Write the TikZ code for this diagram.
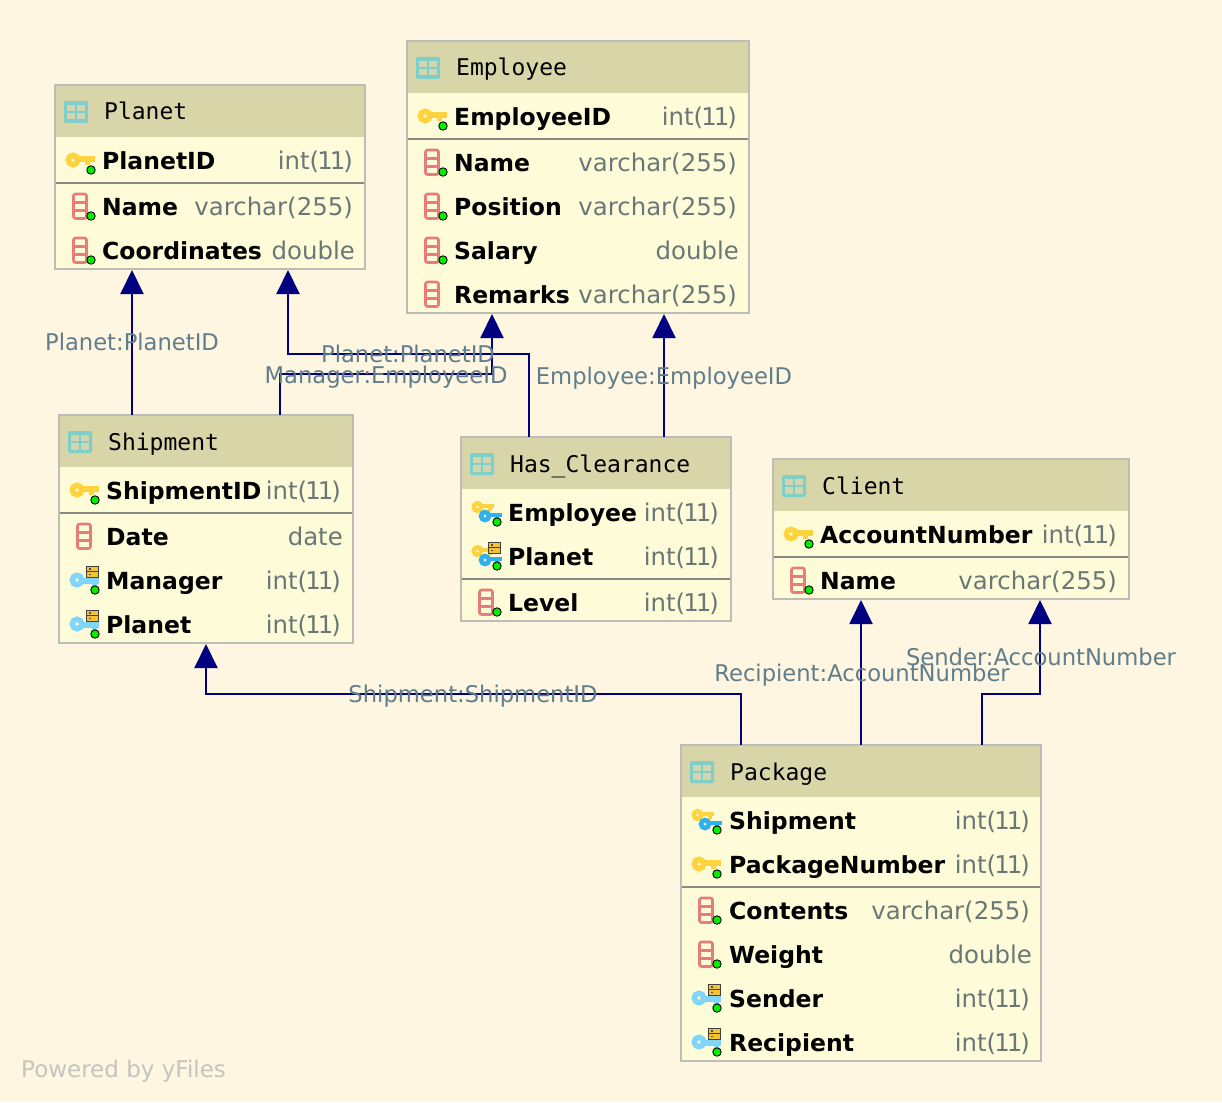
\documentclass[tikz,border=0pt]{standalone}
\usepackage{fontspec}
\setmainfont{DejaVu Sans}
\newfontfamily\monofam{DejaVu Sans Mono}
\newfontfamily\namefam{DejaVu Sans Bold}
\newfontfamily\labelfam[FakeStretch=0.985]{DejaVu Sans}
\usetikzlibrary{arrows.meta}
\definecolor{bgc}{HTML}{FEF6E0}
\definecolor{headc}{HTML}{D8D5A9}
\definecolor{rowc}{HTML}{FEFCD8}
\definecolor{borderc}{HTML}{BDBDB8}
\definecolor{sepc}{HTML}{8A8A85}
\definecolor{linkc}{HTML}{000080}
\definecolor{labelc}{HTML}{607D8B}
\definecolor{typec}{HTML}{6A7777}
\definecolor{markc}{HTML}{C4C4BE}
\definecolor{tealc}{HTML}{80CEC8}
\definecolor{cellc}{HTML}{D3D5B0}
\definecolor{colc}{HTML}{E77C7C}
\definecolor{goldc}{HTML}{FFD33D}
\definecolor{lblue}{HTML}{81D4FA}
\definecolor{dblue}{HTML}{2FB0F0}
\definecolor{dotc}{HTML}{00F000}
\definecolor{folderc}{HTML}{F4C430}
\newcommand{\inttype}{int(\kern-2pt 1\kern-3pt 1\kern-2pt)}
\tikzset{
  x=1pt,y=-1pt,
  tablebox/.style={draw=borderc,line width=2pt,fill=rowc,anchor=north west,inner sep=0pt,outer sep=0pt},
  headbox/.style={fill=headc,anchor=north west,inner sep=0pt,outer sep=0pt},
  title/.style={anchor=base west,inner sep=0pt,font=\monofam\fontsize{23}{23}\selectfont},
  fieldname/.style={anchor=base west,inner sep=0pt,font=\namefam\fontsize{23.5}{24}\selectfont},
  fieldtype/.style={anchor=base east,inner sep=0pt,text=typec,font=\fontsize{24.4}{24}\selectfont},
  edgelabel/.style={anchor=base,inner sep=0pt,text=labelc,font=\labelfam\fontsize{23}{23}\selectfont},
  link/.style={draw=linkc,line width=2pt},
  fk/.style={link,-{Triangle[length=24pt,width=23pt]}},
  pics/gicondot/.style={code={\fill[dotc,draw=black,line width=.9pt] (36,9) circle (4.2);}},
  pics/tableicon/.style={code={
    \fill[tealc,rounded corners=2pt] (0,-11) rectangle (24,11);
    \fill[cellc] (3,-7) rectangle (11,-1); \fill[cellc] (13,-7) rectangle (21,-1);
    \fill[cellc] (3,1) rectangle (11,7.5); \fill[cellc] (13,1) rectangle (21,7.5);}},
  pics/colicon/.style={code={
    \draw[colc,line width=2.6pt,rounded corners=2pt] (18.5,-13) rectangle (31.5,11.5);
    \draw[colc,line width=2.2pt] (18.5,-4.5) -- (31.5,-4.5) (18.5,3.5) -- (31.5,3.5);}},
  pics/pkicon/.style={code={
    \draw[goldc,line width=5.5pt] (18,-1) circle (4.7);
    \draw[goldc,line width=5.5pt] (24,-2) -- (40,-2);
    \fill[goldc] (30,-2) rectangle (35,4);}},
  pics/fkkey/.style={code={
    \draw[lblue,line width=5.5pt] (18,-1) circle (4.7);
    \draw[lblue,line width=5.5pt] (24,0) -- (40,0);
    \fill[lblue] (33,0) rectangle (38,5);}},
  pics/foldericon/.style={code={
    \fill[folderc,draw=black!75,line width=.9pt] (0,0) rectangle (12,5.8);
    \fill[folderc,draw=black!75,line width=.9pt] (0,5.8) rectangle (12,11.6);
    \fill[black!70] (2,1.8) rectangle (4,3.6); \fill[black!70] (2,7.6) rectangle (4,9.4);}},
  pics/duoicon/.style={code={
    \draw[goldc,line width=4.4pt] (16.5,-6) circle (3.8);
    \draw[goldc,line width=4.4pt] (21,-7) -- (33,-7);
    \fill[goldc] (27,-7) rectangle (31,-2);
    \draw[dblue,line width=4.6pt] (24,3) circle (4);
    \draw[dblue,line width=4.6pt] (29,2) -- (41,2);
    \fill[dblue] (34,2) rectangle (38,6);}},
}
% #1 name, #2 title, #3 left, #4 top, #5 right, #6 bottom, #7 separator y
\newcommand{\dbtable}[7]{%
  \node[tablebox,minimum width=#5-#3,minimum height=#6-#4] (#1) at (#3,#4) {};
  \node[headbox,minimum width=#5-#3-2,minimum height=51] (#1head) at (#3+1,#4+1) {};
  \draw[sepc,line width=2pt] (#3+1,#7) -- (#5-1,#7);
  \pic at (#3+9,#4+27) {tableicon};
  \node[title] (#1title) at (#3+49,#4+35) {#2};
  \draw[borderc,line width=2pt] (#3,#4) rectangle (#5,#6);
}
% #1 node name, #2 table left, #3 right edge for type, #4 row y, #5 field, #6 type
\newcommand{\fieldrow}[6]{%
  \node[fieldname] (#1n) at (#2+47,#4+8.5) {#5};
  \node[fieldtype] (#1t) at (#3,#4+8.5) {#6};
}
\begin{document}
\begin{tikzpicture}
\useasboundingbox (0,0) rectangle (1222,1102);
\fill[bgc] (0,0) rectangle (1222,1102);

% ---------- Planet
\dbtable{planet}{Planet}{55}{85}{365}{269}{183}
\fieldrow{pa}{55}{353}{161}{PlanetID}{\inttype}
\fieldrow{pb}{55}{353}{207}{Name}{varchar(255)}
\fieldrow{pc}{55}{355}{251}{Coordinates}{double}
\pic at (55,161) {pkicon}; \pic at (55,161) {gicondot};
\pic at (55,207) {colicon}; \pic at (55,207) {gicondot};
\pic at (55,251) {colicon}; \pic at (55,251) {gicondot};

% ---------- Employee
\dbtable{employee}{Employee}{407}{41}{749}{313}{139}
\fieldrow{ea}{407}{737}{117}{EmployeeID}{\inttype}
\fieldrow{eb}{407}{737}{163}{Name}{varchar(255)}
\fieldrow{ec}{407}{737}{207}{Position}{varchar(255)}
\fieldrow{ed}{407}{739}{251}{Salary}{double}
\fieldrow{ee}{407}{737}{295}{Remarks}{varchar(255)}
\pic at (407,117) {pkicon}; \pic at (407,117) {gicondot};
\pic at (407,163) {colicon}; \pic at (407,163) {gicondot};
\pic at (407,207) {colicon}; \pic at (407,207) {gicondot};
\pic at (407,251) {colicon}; \pic at (407,251) {gicondot};
\pic at (407,295) {colicon};

% ---------- Shipment
\dbtable{shipment}{Shipment}{59}{415}{353}{643}{513}
\fieldrow{sa}{59}{341}{491}{ShipmentID}{\inttype}
\fieldrow{sb}{59}{343}{537}{Date}{date}
\fieldrow{sc}{59}{341}{581}{Manager}{\inttype}
\fieldrow{sd}{59}{341}{625}{Planet}{\inttype}
\pic at (59,491) {pkicon}; \pic at (59,491) {gicondot};
\pic at (59,537) {colicon};
\pic at (59,581) {fkkey}; \pic at (86.5,566) {foldericon}; \pic at (59,581) {gicondot};
\pic at (59,625) {fkkey}; \pic at (86.5,610) {foldericon}; \pic at (59,625) {gicondot};

% ---------- Has_Clearance
\dbtable{clearance}{Has\_Clearance}{461}{437}{731}{621}{579}
\fieldrow{ha}{461}{719}{513}{Employee}{\inttype}
\fieldrow{hb}{461}{719}{557}{Planet}{\inttype}
\fieldrow{hc}{461}{719}{603}{Level}{\inttype}
\pic at (461,513) {duoicon}; \pic at (461,513) {gicondot};
\pic at (461,557) {duoicon}; \pic at (488.5,542) {foldericon}; \pic at (461,557) {gicondot};
\pic at (461,603) {colicon}; \pic at (461,603) {gicondot};

% ---------- Client
\dbtable{client}{Client}{773}{459}{1129}{599}{557}
\fieldrow{ca}{773}{1117}{535}{AccountNumber}{\inttype}
\fieldrow{cb}{773}{1117}{581}{Name}{varchar(255)}
\pic at (773,535) {pkicon}; \pic at (773,535) {gicondot};
\pic at (773,581) {colicon}; \pic at (773,581) {gicondot};

% ---------- Package
\dbtable{package}{Package}{681}{745}{1041}{1061}{887}
\fieldrow{ka}{682}{1030}{821}{Shipment}{\inttype}
\fieldrow{kb}{682}{1030}{865}{PackageNumber}{\inttype}
\fieldrow{kc}{682}{1030}{911}{Contents}{varchar(255)}
\fieldrow{kd}{682}{1032}{955}{Weight}{double}
\fieldrow{ke}{682}{1030}{999}{Sender}{\inttype}
\fieldrow{kf}{682}{1030}{1043}{Recipient}{\inttype}
\pic at (681,821) {duoicon}; \pic at (681,821) {gicondot};
\pic at (681,865) {pkicon}; \pic at (681,865) {gicondot};
\pic at (681,911) {colicon}; \pic at (681,911) {gicondot};
\pic at (681,955) {colicon}; \pic at (681,955) {gicondot};
\pic at (681,999) {fkkey}; \pic at (708.5,984) {foldericon}; \pic at (681,999) {gicondot};
\pic at (681,1043) {fkkey}; \pic at (708.5,1028) {foldericon}; \pic at (681,1043) {gicondot};

% ---------- Connectors
\draw[fk] ([xshift=73pt]shipment.north west) -- ([xshift=77pt,yshift=-1pt]planet.south west);
\draw[fk] ([xshift=68pt]clearance.north west) |- (408,354) -| ([xshift=233pt,yshift=-1pt]planet.south west);
\draw[fk] ([xshift=221pt]shipment.north west) |- (386,374) -| ([xshift=85pt,yshift=-1pt]employee.south west);
\draw[fk] ([xshift=203pt]clearance.north west) -- ([xshift=257pt,yshift=-1pt]employee.south west);
\draw[fk] ([xshift=60pt]package.north west) |- (473,694) -| ([xshift=147pt,yshift=-1pt]shipment.south west);
\draw[fk] ([xshift=180pt]package.north west) -- ([xshift=88pt,yshift=-1pt]client.south west);
\draw[fk] ([xshift=301pt]package.north west) |- (1010,694) -| ([xshift=267pt,yshift=-1pt]client.south west);

% ---------- Edge labels
\node[edgelabel] (l1) at (132,350) {Planet:PlanetID};
\node[edgelabel] (l2) at (408,362) {Planet:PlanetID};
\node[edgelabel] (l3) at (386,383) {Manager:EmployeeID};
\node[edgelabel] (l4) at (664,384) {Employee:EmployeeID};
\node[edgelabel] (l5) at (473,702) {Shipment:ShipmentID};
\node[edgelabel] (l6) at (862,681) {Recipient:AccountNumber};
\node[edgelabel] (l7) at (1041,665) {Sender:AccountNumber};

\node[anchor=base west,inner sep=0pt,text=markc,font=\fontsize{23}{23}\selectfont] (mark) at (21,1077) {Powered by yFiles};
\end{tikzpicture}
\end{document}
